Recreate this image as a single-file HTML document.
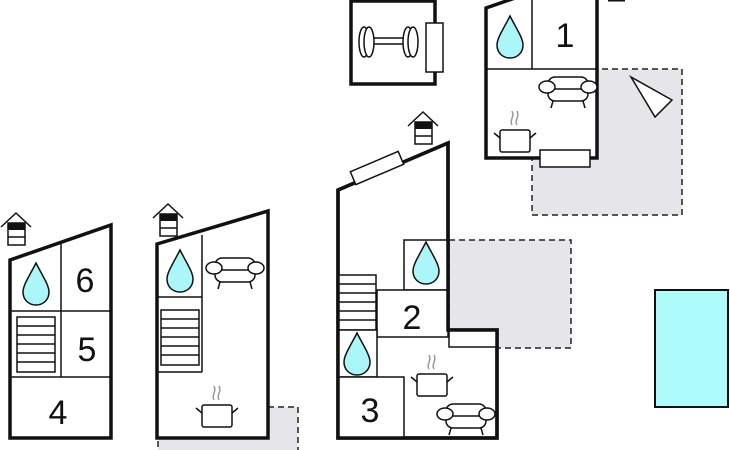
<!DOCTYPE html>
<html><head><style>body{margin:0;background:#fff}svg{display:block}text{font-family:"Liberation Sans",sans-serif;fill:#111}</style></head>
<body>
<svg width="730" height="450" viewBox="0 0 730 450" xmlns="http://www.w3.org/2000/svg">
<defs>
<g id="drop"><path d="M0,-20 C6,-8 13,2 13,9 C13,17 7,22 0,22 C-7,22 -13,17 -13,9 C-13,2 -6,-8 0,-20Z" fill="#aaf6f8" stroke="#111" stroke-width="1.5"/></g>
<g id="sofa" fill="#fff" stroke="#111" stroke-width="1.5"><rect x="-20" y="-12" width="40" height="24" rx="7"/><line x1="-20" y1="0" x2="20" y2="0"/><ellipse cx="-21" cy="-2" rx="8" ry="6"/><ellipse cx="21" cy="-2" rx="8" ry="6"/><line x1="-15" y1="12" x2="-17" y2="19"/><line x1="15" y1="12" x2="17" y2="19"/></g>
<g id="pot" fill="none" stroke="#111" stroke-width="1.5"><rect x="-15" y="-9" width="30" height="22" rx="2" fill="#fff"/><line x1="-15" y1="-1" x2="-21" y2="-6"/><line x1="15" y1="-1" x2="21" y2="-6"/><path d="M-3,-14 c-3,-5 3,-8 0,-14 M2,-14 c-3,-5 3,-8 0,-14" stroke="#999"/></g>
<g id="house"><path d="M-15,14 L0,0 L15,14" fill="none" stroke="#111" stroke-width="1.5"/><rect x="-8" y="10" width="17" height="22" fill="#fff" stroke="#111" stroke-width="1.5"/><rect x="-8" y="10" width="17" height="7" fill="#111"/><line x1="-8" y1="24" x2="9" y2="24" stroke="#111" stroke-width="1.5"/></g>
<g id="stairs6" fill="#fff" stroke="#111" stroke-width="1.5"><rect x="0" y="0" width="38" height="55"/><line x1="0" y1="9" x2="38" y2="9"/><line x1="0" y1="18" x2="38" y2="18"/><line x1="0" y1="27" x2="38" y2="27"/><line x1="0" y1="36" x2="38" y2="36"/><line x1="0" y1="45" x2="38" y2="45"/></g>
</defs>

<!-- gray dashed areas -->
<rect x="532" y="69" width="150" height="146" fill="#e6e6ea" stroke="#222" stroke-width="1.5" stroke-dasharray="6,4"/>
<rect x="449" y="240" width="122" height="108" fill="#e6e6ea" stroke="#222" stroke-width="1.5" stroke-dasharray="6,4"/>
<rect x="158" y="407" width="140" height="50" fill="#e6e6ea" stroke="#222" stroke-width="1.5" stroke-dasharray="6,4"/>

<!-- Building A -->
<use href="#house" x="16" y="213"/>
<polygon points="10,260 111,225 111,438 10,438" fill="#fff" stroke="#111" stroke-width="3.5"/>
<g stroke="#111" stroke-width="1.5" fill="none"><line x1="61" y1="244" x2="61" y2="377"/><line x1="10" y1="311" x2="111" y2="311"/><line x1="10" y1="377" x2="111" y2="377"/></g>
<use href="#drop" x="36" y="283"/>
<use href="#stairs6" x="17" y="317"/>
<text x="85" y="292" font-size="34" text-anchor="middle">6</text>
<text x="87" y="361" font-size="34" text-anchor="middle">5</text>
<text x="58" y="424" font-size="34" text-anchor="middle">4</text>

<!-- Building B -->
<use href="#house" x="168" y="204"/>
<polygon points="157,244 268,211 268,438 157,438" fill="#fff" stroke="#111" stroke-width="3.5"/>
<g stroke="#111" stroke-width="1.5" fill="none"><line x1="202" y1="235" x2="202" y2="372"/><line x1="157" y1="297" x2="202" y2="297"/><line x1="157" y1="372" x2="202" y2="372"/></g>
<use href="#drop" x="180" y="270"/>
<use href="#stairs6" x="161" y="310"/>
<use href="#sofa" x="235" y="270"/>
<use href="#pot" x="217" y="414"/>

<!-- Building C -->
<use href="#house" x="423" y="112"/>
<polygon points="338,190 448,143 448,330 497,330 497,438 338,438" fill="#fff" stroke="#111" stroke-width="3.5"/>
<rect x="449" y="330" width="48" height="17" fill="#fff" stroke="#111" stroke-width="1.5"/>
<g stroke="#111" stroke-width="1.5" fill="#fff">
<rect x="404" y="240" width="44" height="50"/>
<rect x="377" y="290" width="71" height="47"/>
<rect x="338" y="275" width="38" height="55"/>
<line x1="338" y1="284" x2="376" y2="284"/><line x1="338" y1="293" x2="376" y2="293"/><line x1="338" y1="302" x2="376" y2="302"/><line x1="338" y1="311" x2="376" y2="311"/><line x1="338" y1="320" x2="376" y2="320"/>
<rect x="338" y="330" width="39" height="47"/>
<rect x="338" y="377" width="66" height="61"/>
</g>
<polygon points="338,190 448,143 448,330 497,330 497,438 338,438" fill="none" stroke="#111" stroke-width="3.5"/>
<rect x="351" y="161" width="52" height="14" fill="#fff" stroke="#111" stroke-width="1.5" transform="rotate(-23 377 168)"/>
<use href="#drop" x="426" y="262"/>
<use href="#drop" x="357" y="353"/>
<text x="412" y="329" font-size="34" text-anchor="middle">2</text>
<text x="370" y="422" font-size="34" text-anchor="middle">3</text>
<use href="#pot" x="432" y="383"/>
<use href="#sofa" x="466" y="416"/>

<!-- Gym -->
<rect x="351" y="1" width="84" height="83" fill="#fff" stroke="#111" stroke-width="3.5"/>
<g stroke="#111" stroke-width="1.5" fill="#fff"><rect x="366" y="38" width="40" height="6"/><ellipse cx="364" cy="42" rx="5" ry="15"/><ellipse cx="369" cy="42" rx="5" ry="15"/><ellipse cx="408" cy="42" rx="5" ry="15"/><ellipse cx="413" cy="42" rx="5" ry="15"/></g>
<rect x="426" y="23" width="17" height="49" fill="#fff" stroke="#111" stroke-width="1.5"/>

<!-- Building D -->
<polygon points="486,8 515,-2 597,-2 597,158 486,158" fill="#fff" stroke="#111" stroke-width="3.5"/>
<g stroke="#111" stroke-width="1.5"><line x1="532" y1="0" x2="532" y2="69"/><line x1="486" y1="69" x2="597" y2="69"/></g>
<use href="#drop" x="510" y="36"/>
<text x="565" y="47" font-size="34" text-anchor="middle">1</text>
<use href="#sofa" x="568" y="89"/>
<use href="#pot" x="515" y="139"/>
<rect x="540" y="150" width="50" height="17" fill="#fff" stroke="#111" stroke-width="1.5"/>
<polygon points="631,77 672,100 655,117" fill="#fff" stroke="#111" stroke-width="1.5"/>
<line x1="608" y1="0" x2="625" y2="0" stroke="#111" stroke-width="3"/>

<!-- Pool -->
<rect x="655" y="290" width="73" height="117" fill="#aefcfc" stroke="#111" stroke-width="2"/>
</svg>
</body></html>
